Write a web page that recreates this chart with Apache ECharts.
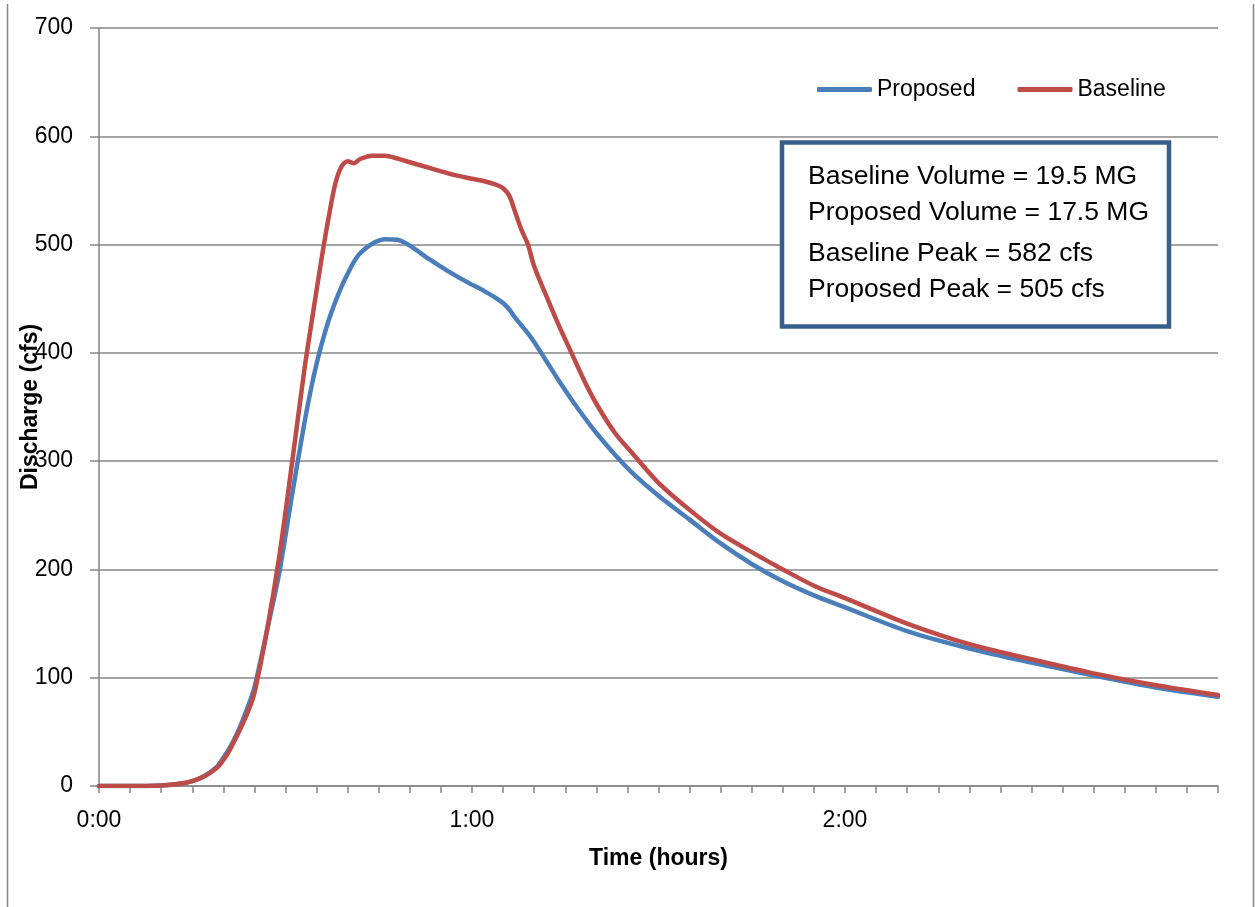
<!DOCTYPE html>
<html>
<head>
<meta charset="utf-8">
<script src="https://cdn.jsdelivr.net/npm/echarts@6/dist/echarts.min.js"></script>
<style>
html,body{margin:0;padding:0;background:#fff;}
#chart{width:1255px;height:907px;}
</style>
</head>
<body>
<div id="chart"></div>
<script>
// Time in minutes from start
var timeMin = [0, 5, 10, 13, 15, 17, 19, 20, 21, 22, 23, 24, 25, 27, 29, 31, 33, 34, 35, 36, 37, 38, 39, 40, 41, 42, 44, 46, 48, 50, 53, 56, 59, 62, 64, 65, 66, 67, 68, 69, 70, 72, 74, 76, 78, 80, 83, 86, 90, 95, 100, 105, 110, 115, 120, 130, 140, 150, 160, 170, 180];
var proposed = [0, 0, 0.5, 2, 4.5, 9.5, 18, 26, 35, 46, 59, 74, 91, 143, 197, 267, 334, 364, 390, 412, 431, 447, 461, 473, 484, 492, 501, 505, 504.5, 499, 487, 476, 466, 457, 450, 446, 440, 432, 425, 418, 410, 392, 374, 357, 341, 326, 306, 288, 268, 246, 224, 205, 189, 176, 165, 143, 127, 114, 102, 91, 82.5];
var baseline = [0, 0, 0.5, 2, 4.5, 9, 17, 24, 33, 44, 56, 69, 86, 143, 212, 296, 383, 421, 458, 494, 527, 556, 572, 577, 575, 579, 582, 582, 579.5, 576, 571, 566, 562, 558.5, 555, 552, 545, 529, 513, 500, 480, 452, 425, 400, 375, 353, 326, 306, 280, 255, 233, 216, 200, 185, 173.5, 150, 131, 117, 104, 93, 84];
var seriesNames = ['Proposed', 'Baseline'];
var xTickLabels = {0: '0:00', 60: '1:00', 120: '2:00'};
var infoLines = ['Baseline Volume = 19.5 MG', 'Proposed Volume = 17.5 MG', 'Baseline Peak = 582 cfs', 'Proposed Peak = 505 cfs'];

var FONT = "'Liberation Sans', Arial, sans-serif";
var GRAY = '#868686';

function pairs(arr) { return timeMin.map(function (t, i) { return [t, arr[i]]; }); }

var chart = echarts.init(document.getElementById('chart'), null, {renderer: 'canvas'});
var infoY = [177, 212.5, 254, 289.5];
var graphics = [
  {type: 'line', shape: {x1: 7.5, y1: 4, x2: 7.5, y2: 907}, style: {stroke: GRAY, lineWidth: 1.5}, silent: true},
  {type: 'line', shape: {x1: 1253.5, y1: 4, x2: 1253.5, y2: 907}, style: {stroke: GRAY, lineWidth: 1.5}, silent: true},
  {type: 'rect', shape: {x: 782, y: 142.5, width: 387, height: 184}, style: {fill: '#fff', stroke: '#385D8A', lineWidth: 4.5}, z: 100}
];
infoLines.forEach(function (s, i) {
  graphics.push({type: 'text', x: 808, y: infoY[i], z: 101,
    style: {text: s, fontSize: 26.5, fontFamily: FONT, fill: '#000', verticalAlign: 'middle', textVerticalAlign: 'middle'}});
});

chart.setOption({
  animation: false,
  backgroundColor: '#fff',
  textStyle: {fontFamily: FONT},
  grid: {left: 99, right: 37, top: 28, bottom: 121, containLabel: false, outerBoundsMode: 'none'},
  legend: {
    data: seriesNames, left: 817, top: 78, padding: 0,
    itemWidth: 55, itemHeight: 5, itemGap: 42, icon: 'roundRect',
    textStyle: {fontSize: 23, color: '#000', fontFamily: FONT}
  },
  xAxis: {
    type: 'value', min: 0, max: 180, interval: 5,
    name: 'Time (hours)', nameLocation: 'middle', nameGap: 61, nameMoveOverlap: false,
    nameTextStyle: {fontSize: 23, fontWeight: 'bold', color: '#000', fontFamily: FONT},
    axisLine: {show: true, lineStyle: {color: GRAY, width: 1.5}},
    axisTick: {show: true, length: 7, lineStyle: {color: GRAY, width: 1.5}},
    splitLine: {show: false},
    axisLabel: {
      fontSize: 23, color: '#000', margin: 23, fontFamily: FONT,
      formatter: function (v) { return xTickLabels[v] || ''; }
    }
  },
  yAxis: {
    type: 'value', min: 0, max: 700, interval: 100,
    name: 'Discharge (cfs)', nameLocation: 'middle', nameGap: 57, nameMoveOverlap: false,
    nameTextStyle: {fontSize: 23, fontWeight: 'bold', color: '#000', fontFamily: FONT},
    axisLine: {show: true, lineStyle: {color: GRAY, width: 1.5}},
    axisTick: {show: true, length: 9, lineStyle: {color: GRAY, width: 1.5}},
    splitLine: {show: true, lineStyle: {color: GRAY, width: 1.5}},
    axisLabel: {fontSize: 23, color: '#000', margin: 26, fontFamily: FONT}
  },
  series: [
    {name: seriesNames[0], type: 'line', data: pairs(proposed), showSymbol: false, symbol: 'none',
     smooth: 0.3, itemStyle: {color: '#4A7EBB'}, lineStyle: {color: '#4A7EBB', width: 4.5, join: 'round', cap: 'round'}},
    {name: seriesNames[1], type: 'line', data: pairs(baseline), showSymbol: false, symbol: 'none',
     smooth: 0.3, itemStyle: {color: '#BE4B48'}, lineStyle: {color: '#BE4B48', width: 4.5, join: 'round', cap: 'round'}}
  ],
  graphic: graphics
});
</script>
</body>
</html>
